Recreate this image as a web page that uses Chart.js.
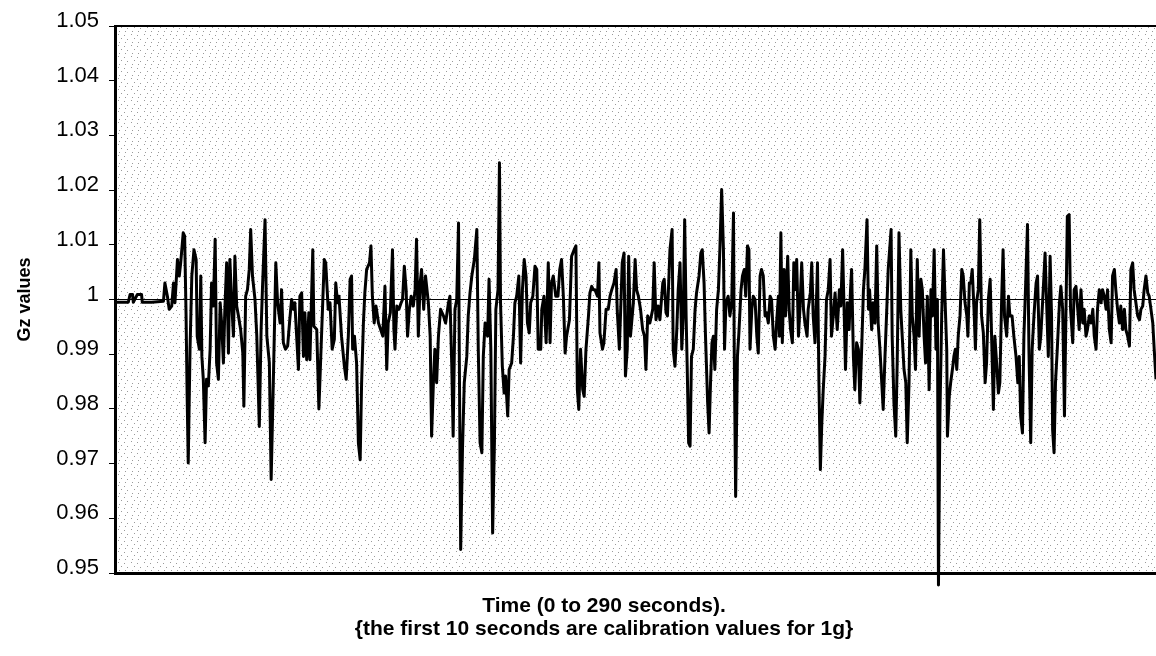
<!DOCTYPE html>
<html>
<head>
<meta charset="utf-8">
<title>Gz values</title>
<script src="https://cdn.jsdelivr.net/npm/chart.js@4.4.1/dist/chart.umd.min.js"></script>
<style>
    html, body { margin: 0; padding: 0; background: #fff; }
    canvas { display: block; }
</style>
</head>
<body>
<canvas id="gz-chart" width="1156" height="656"></canvas>
<script>
// Time in seconds (0 to 290)
const timeSec = [
    0, 3.7, 4.2, 4.9, 5.1, 6.2, 7.4, 7.6, 10.2, 13.5, 13.9, 14.6, 15.1, 15.8, 16.3, 16.7, 17.4, 17.9, 18.3, 19.0,
    19.4, 19.8, 20.1, 20.4, 20.9, 21.4, 22.0, 22.6, 22.9, 23.5, 23.9, 24.2, 24.6, 25.1, 25.5, 26.0, 26.5, 26.9, 27.4, 27.9,
    28.3, 28.8, 29.3, 29.7, 30.2, 30.6, 31.1, 31.6, 32.0, 32.5, 33.0, 33.4, 33.9, 34.4, 35.0, 35.6, 35.9, 36.4, 36.9, 37.4,
    37.8, 38.3, 39.0, 39.5, 40.2, 40.7, 41.1, 41.8, 42.3, 43.0, 43.5, 44.1, 44.8, 45.3, 46.0, 46.4, 46.9, 47.5, 48.1, 48.7,
    49.2, 49.7, 50.1, 50.6, 51.1, 51.5, 52.0, 52.5, 52.9, 53.4, 54.0, 54.3, 55.1, 55.4, 56.2, 56.8,
    58.3, 58.7, 59.4, 59.9, 60.5, 61.1, 61.5, 62.0, 62.4, 63.1, 63.9, 64.4, 65.0, 65.5, 65.9, 66.2, 66.7, 67.3, 67.8, 68.3,
    68.7, 69.2, 69.6, 70.1, 70.9, 71.3, 71.7, 72.2, 72.7, 73.4, 74.0, 74.6, 75.2, 75.7, 76.1, 76.7, 77.3, 77.7, 78.0, 78.5,
    79.1, 79.7, 80.1, 80.6, 81.1, 81.5, 82.0, 82.5, 83.1, 83.6, 84.0, 84.5, 85.0, 85.4, 86.0, 86.5, 87.3, 87.8, 88.2, 88.7,
    89.1, 89.6, 90.1, 90.7, 91.5, 92.1, 92.9, 93.3, 93.8, 94.2, 94.7, 95.2, 95.7, 95.9, 96.3, 96.8, 97.3, 98.0, 98.4, 98.9,
    99.4, 100.1, 100.8, 101.2, 101.7, 102.2, 102.6, 103.1, 103.8, 104.2, 104.7, 105.2, 105.7, 106.1, 106.7, 107.1, 107.4, 107.9, 108.4, 108.8,
    109.4, 109.8, 110.5, 111.0, 111.4, 111.9, 112.5, 113.0, 113.5, 114.0,
    114.5, 114.9, 115.4, 115.8, 116.4, 117.0, 117.5, 117.9, 118.6, 118.9, 119.5, 120.1, 120.7, 121.2, 121.6, 122.1, 122.8, 123.4, 123.9, 124.4,
    124.9, 125.4, 125.8, 126.6, 127.2, 127.9, 128.4, 128.8, 129.2, 129.7, 130.3, 130.7, 131.2, 131.9, 132.3, 132.8, 133.2, 133.7, 134.4, 134.8,
    135.1, 135.8, 136.2, 136.8, 137.4, 137.9, 138.4, 139.0, 139.6, 139.9, 140.5, 141.0, 141.3, 141.8, 142.2, 142.7, 143.1, 143.6, 144.4, 144.9,
    145.3, 145.8, 146.4, 147.0, 147.5, 147.9, 148.4, 149.0, 149.8, 150.2, 150.7, 151.3, 151.8, 152.6, 153.0, 153.5, 153.9, 154.6, 155.2, 155.5,
    156.0, 156.5, 156.9, 157.4, 157.9, 158.3, 158.7, 159.1, 159.4, 159.8, 160.2, 160.6, 161.1, 161.6, 162.0, 162.7, 163.2, 163.6, 164.1, 164.5,
    165.1, 165.5, 165.9, 166.3, 166.7, 167.1, 167.6, 168.1, 168.5, 169.0, 169.5, 169.8, 170.2, 170.8,
    171.3, 171.8, 172.3, 172.5, 172.9, 173.4, 173.8, 174.4, 174.8, 175.3, 175.7, 176.2, 176.6, 176.9, 177.4, 177.8, 178.3, 178.8, 179.2, 179.7,
    180.1, 180.6, 181.1, 181.5, 182.0, 182.5, 182.9, 183.4, 183.9, 184.3, 184.8, 185.1, 185.5, 185.9, 186.4, 186.8, 187.4, 187.8, 188.2, 188.7,
    189.1, 189.4, 189.9, 190.4, 190.8, 191.3, 191.8, 192.2, 192.8, 193.1, 193.7, 194.1, 194.5, 195.0, 195.5, 195.7, 196.1, 196.5, 196.9, 197.3,
    197.8, 198.2, 198.7, 199.2, 199.6, 200.1, 200.6, 201.2, 201.8, 202.2, 202.7, 203.2, 203.5, 204.0, 204.5, 204.9, 205.2, 205.7, 206.1, 206.6,
    207.1, 207.5, 208.0, 208.5, 208.9, 209.5, 209.9, 210.2, 210.8, 211.2, 211.7, 212.2, 212.6, 213.1, 213.6, 214.0, 214.5, 215.0, 215.4, 216.2,
    216.5, 217.0, 217.5, 217.9, 218.4, 218.9, 219.3, 219.8, 220.3, 220.7, 221.2, 221.7, 222.1, 222.6, 223.0, 223.5, 224.0, 224.5, 224.9, 225.4,
    225.8, 226.3, 226.8, 227.3, 227.7, 228.2,
    228.7, 229.1, 229.4, 229.8, 230.3, 230.8, 231.2, 231.7, 231.9, 232.4, 232.8, 233.4, 233.7, 234.1, 234.5, 234.9, 235.4, 235.9, 236.3, 236.8,
    237.3, 237.6, 238.0, 238.4, 238.8, 239.3, 239.7, 240.0, 240.5, 240.9, 241.4, 241.9, 242.4, 242.8, 243.3, 243.8, 244.2, 244.7, 245.1, 245.6,
    246.1, 246.5, 247.0, 247.4, 247.8, 248.4, 248.9, 249.3, 249.9, 250.4, 251.0, 251.5, 251.9, 252.3, 252.8, 253.2, 253.7, 254.2, 254.6, 255.1,
    255.5, 256.0, 256.6, 257.0, 257.5, 257.9, 258.4, 259.1, 259.5, 260.0, 260.5, 260.9, 261.2, 261.6, 262.0, 262.5, 263.1, 263.5, 264.0, 264.5,
    264.9, 265.3, 265.8, 266.2, 266.8, 267.2, 267.7, 268.2, 268.6, 269.1, 269.6, 270.0, 270.5, 270.9, 271.4, 271.9, 272.4, 272.8, 273.3, 273.7,
    274.2, 274.7, 275.1, 275.6, 276.1, 276.5, 277.0, 277.5, 277.9, 278.4, 278.8, 279.3, 279.8, 280.2, 280.7, 281.2, 281.6, 282.1, 282.6, 283.0,
    283.5, 283.9, 284.4, 284.9, 285.4, 285.8, 286.3, 286.7, 287.2, 287.7, 288.1, 288.6, 289.1, 289.5, 290.0
];

// Gz readings (g), one per entry of timeSec
const gzValues = [
    0.9995, 0.9995, 1.0009, 1.0009, 0.9995, 1.0009, 1.0009, 0.9995, 0.9995, 0.9997, 1.0030, 1.0006, 0.9982, 0.9988, 1.0030, 0.9994, 1.0073, 1.0043, 1.0067, 1.0122,
    1.0116, 0.9970, 0.9823, 0.9701, 0.9909, 1.0043, 1.0091, 1.0073, 0.9933, 0.9909, 1.0043, 0.9896, 0.9854, 0.9738, 0.9854, 0.9842, 0.9909, 1.0030, 0.9988, 1.0110,
    0.9884, 0.9854, 0.9994, 0.9957, 0.9884, 0.9982, 1.0067, 0.9902, 1.0073, 0.9994, 0.9933, 1.0079, 0.9988, 0.9970, 0.9945, 0.9902, 0.9805, 1.0006, 1.0018, 1.0055,
    1.0128, 1.0043, 1.0000, 0.9933, 0.9768, 0.9945, 1.0024, 1.0146, 0.9933, 0.9884, 0.9671, 0.9848, 1.0067, 0.9994, 0.9957, 1.0018, 0.9921, 0.9909, 0.9915, 0.9964,
    1.0000, 0.9982, 0.9994, 0.9933, 0.9872, 1.0006, 1.0012, 0.9896, 0.9976, 0.9890, 0.9976, 0.9890, 1.0091, 0.9951, 0.9945, 0.9800,
    1.0073, 1.0067, 0.9982, 0.9994, 0.9909, 0.9927, 1.0030, 0.9994, 1.0006, 0.9933, 0.9878, 0.9854, 0.9933, 1.0037, 1.0043, 0.9909, 0.9933, 0.9884, 0.9738, 0.9707,
    0.9848, 0.9957, 1.0012, 1.0055, 1.0067, 1.0098, 1.0006, 0.9957, 0.9988, 0.9957, 0.9945, 0.9933, 1.0024, 0.9872, 0.9957, 0.9976, 1.0091, 0.9945, 0.9909, 0.9988,
    0.9982, 0.9994, 1.0000, 1.0061, 1.0018, 0.9933, 0.9982, 1.0006, 0.9988, 1.0018, 1.0110, 0.9933, 1.0030, 1.0055, 0.9982, 1.0043, 0.9994, 0.9933, 0.9750, 0.9848,
    0.9909, 0.9848, 0.9933, 0.9982, 0.9970, 0.9957, 0.9994, 1.0006, 0.9884, 0.9750, 0.9982, 1.0000, 1.0140, 0.9909, 0.9543, 0.9726, 0.9848, 0.9896, 0.9970, 1.0012,
    1.0043, 1.0073, 1.0128, 0.9909, 0.9738, 0.9720, 0.9896, 0.9957, 0.9933, 1.0037, 0.9909, 0.9573, 0.9738, 0.9982, 1.0018, 1.0250, 0.9994, 0.9878, 0.9829, 0.9860,
    0.9787, 0.9872, 0.9884, 0.9933, 0.9994, 1.0006, 1.0043, 0.9884, 1.0018, 1.0073,
    1.0043, 0.9957, 0.9939, 0.9994, 1.0006, 1.0061, 1.0055, 0.9909, 0.9909, 0.9982, 1.0006, 0.9921, 1.0067, 0.9921, 1.0030, 1.0043, 1.0006, 1.0006, 1.0055, 1.0073,
    1.0006, 0.9902, 0.9933, 0.9963, 1.0079, 1.0091, 1.0098, 0.9835, 0.9799, 0.9909, 0.9835, 0.9823, 0.9909, 0.9970, 1.0012, 1.0024, 1.0018, 1.0018, 1.0006, 1.0067,
    0.9939, 0.9909, 0.9921, 0.9982, 0.9982, 1.0006, 1.0018, 1.0030, 1.0055, 0.9982, 0.9909, 1.0006, 1.0067, 1.0085, 0.9860, 0.9909, 1.0079, 0.9933, 0.9994, 1.0073,
    1.0018, 1.0006, 0.9982, 0.9945, 0.9933, 0.9872, 0.9970, 0.9957, 0.9982, 1.0067, 0.9963, 0.9988, 0.9963, 1.0030, 1.0037, 0.9976, 0.9970, 1.0091, 1.0128, 0.9909,
    0.9878, 0.9945, 1.0018, 1.0067, 0.9909, 0.9970, 1.0146, 0.9970, 0.9878, 0.9738, 0.9732, 0.9896, 0.9909, 0.9982, 1.0012, 1.0043, 1.0085, 1.0091, 1.0030, 0.9933,
    0.9811, 0.9756, 0.9848, 0.9921, 0.9933, 0.9872, 0.9982, 1.0018, 1.0091, 1.0201, 1.0091, 0.9909, 0.9994, 1.0006,
    0.9970, 0.9994, 1.0158, 0.9909, 0.9640, 0.9896, 0.9939, 1.0018, 1.0043, 1.0055, 1.0006, 1.0098, 1.0091, 0.9909, 0.9982, 1.0006, 1.0000, 0.9933, 0.9902, 1.0043,
    1.0055, 1.0043, 0.9970, 0.9976, 0.9957, 1.0006, 1.0000, 0.9933, 0.9909, 0.9957, 1.0006, 0.9933, 1.0122, 0.9921, 1.0055, 0.9970, 1.0079, 0.9982, 0.9945, 0.9921,
    1.0067, 1.0018, 1.0073, 0.9933, 0.9982, 1.0067, 0.9982, 0.9957, 0.9933, 0.9982, 1.0012, 1.0067, 0.9970, 0.9921, 1.0018, 1.0067, 0.9848, 0.9689, 0.9774, 0.9835,
    0.9896, 1.0000, 1.0018, 1.0073, 0.9933, 0.9970, 1.0012, 0.9945, 1.0018, 0.9988, 1.0091, 0.9957, 0.9872, 0.9994, 0.9945, 1.0018, 1.0055, 0.9896, 0.9835, 0.9921,
    0.9909, 0.9811, 0.9909, 1.0018, 1.0055, 1.0146, 0.9982, 1.0018, 0.9945, 0.9994, 0.9957, 1.0098, 0.9957, 0.9909, 0.9848, 0.9799, 0.9896, 0.9982, 1.0055, 1.0128,
    0.9933, 0.9811, 0.9750, 0.9884, 1.0122, 0.9982, 0.9933, 0.9872, 0.9848, 0.9738, 0.9848, 1.0091, 0.9970, 0.9933, 0.9872, 1.0073, 0.9933, 1.0037, 1.0018, 0.9933,
    0.9884, 1.0006, 0.9835, 1.0018, 0.9970, 1.0091,
    0.9909, 1.0000, 0.9478, 0.9787, 0.9970, 1.0091, 1.0006, 0.9909, 0.9750, 0.9823, 0.9848, 0.9878, 0.9896, 0.9909, 0.9872, 0.9933, 0.9970, 1.0055, 1.0043, 0.9994,
    0.9970, 0.9933, 1.0030, 1.0030, 1.0055, 0.9982, 0.9909, 0.9994, 1.0018, 1.0146, 0.9970, 0.9939, 0.9848, 0.9884, 1.0000, 1.0037, 0.9933, 0.9799, 0.9933, 0.9884,
    0.9829, 0.9848, 1.0000, 1.0091, 0.9970, 0.9933, 1.0006, 0.9970, 0.9970, 0.9933, 0.9896, 0.9848, 0.9896, 0.9787, 0.9756, 0.9933, 1.0030, 1.0137, 0.9909, 0.9738,
    0.9909, 0.9970, 1.0030, 1.0043, 0.9909, 0.9933, 0.9994, 1.0085, 1.0000, 0.9896, 1.0079, 0.9970, 0.9762, 0.9720, 0.9848, 0.9909, 0.9994, 1.0024, 0.9982, 0.9787,
    0.9970, 1.0152, 1.0155, 0.9982, 0.9921, 1.0018, 1.0024, 0.9982, 0.9945, 1.0018, 0.9957, 0.9982, 0.9933, 0.9945, 0.9970, 0.9957, 0.9982, 0.9933, 0.9909, 0.9982,
    1.0018, 0.9994, 1.0018, 1.0006, 0.9982, 1.0018, 0.9945, 0.9921, 1.0043, 1.0055, 1.0018, 0.9982, 0.9957, 0.9988, 0.9945, 0.9982, 0.9945, 0.9933, 0.9915, 1.0055,
    1.0067, 1.0018, 0.9994, 0.9970, 0.9963, 0.9982, 0.9988, 1.0018, 1.0043, 1.0012, 1.0006, 0.9982, 0.9957, 0.9909, 0.9854
];

// Y axis tick values
const yTickValues = [0.95, 0.96, 0.97, 0.98, 0.99, 1.00, 1.01, 1.02, 1.03, 1.04, 1.05];

const xTitleLines = ['Time (0 to 290 seconds).', '{the first 10 seconds are calibration values for 1g}'];

const FONT = '"Liberation Sans", Arial, Helvetica, sans-serif';

// Build the points
const n = Math.min(timeSec.length, gzValues.length);
const points = [];
for (let i = 0; i < n; i++) {
    points.push({ x: timeSec[i], y: gzValues[i] });
}

// Sparse stipple tile for the plot background
function makeStipple(ctx) {
    const tile = document.createElement('canvas');
    tile.width = 13;
    tile.height = 11;
    const t = tile.getContext('2d');
    t.fillStyle = '#ffffff';
    t.fillRect(0, 0, 13, 11);
    t.fillStyle = '#9a9a9a';
    [[1, 1], [7, 2], [4, 5], [10, 6], [2, 9], [8, 9]].forEach(p => t.fillRect(p[0], p[1], 1, 1));
    return ctx.createPattern(tile, 'repeat');
}

const plotDecor = {
    id: 'plotDecor',
    beforeDraw(chart) {
        const { ctx, chartArea } = chart;
        ctx.save();
        ctx.fillStyle = makeStipple(ctx);
        ctx.fillRect(chartArea.left, chartArea.top, chartArea.right - chartArea.left, chartArea.bottom - chartArea.top);
        ctx.restore();
    },
    afterDraw(chart) {
        const { ctx, chartArea } = chart;
        ctx.save();
        // top frame line
        ctx.strokeStyle = '#000';
        ctx.lineWidth = 2;
        ctx.beginPath();
        ctx.moveTo(chartArea.left, chartArea.top);
        ctx.lineTo(chartArea.right, chartArea.top);
        ctx.stroke();

        // two-line x axis title
        ctx.fillStyle = '#000';
        ctx.font = 'bold 21px ' + FONT;
        ctx.textAlign = 'center';
        ctx.textBaseline = 'middle';
        ctx.fillText(xTitleLines[0], 604, 606);
        ctx.fillText(xTitleLines[1], 604, 629);
        ctx.restore();
    }
};

const ctx = document.getElementById('gz-chart').getContext('2d');
new Chart(ctx, {
    type: 'line',
    data: {
        datasets: [{
            label: 'Gz',
            data: points,
            borderColor: '#000',
            borderWidth: 3,
            borderJoinStyle: 'round',
            pointRadius: 0,
            tension: 0,
            fill: false,
            clip: false
        }]
    },
    options: {
        responsive: false,
        animation: false,
        devicePixelRatio: 1,
        layout: { padding: { top: 26, right: 0, bottom: 0, left: 0 } },
        plugins: {
            legend: { display: false },
            tooltip: { enabled: false }
        },
        scales: {
            x: {
                type: 'linear',
                min: 0,
                max: 290,
                ticks: { display: false },
                grid: { display: false },
                border: { display: true, color: '#000', width: 3 },
                afterFit: scale => { scale.height = 83; }
            },
            y: {
                type: 'linear',
                min: 0.95,
                max: 1.05,
                afterBuildTicks: scale => {
                    scale.ticks = yTickValues.map(v => ({ value: v }));
                },
                afterFit: scale => { scale.width = 115; },
                ticks: {
                    color: '#000',
                    padding: 10,
                    labelOffset: -5,
                    font: { family: FONT, size: 22 },
                    callback: v => String(Number(v.toFixed(2)))
                },
                grid: {
                    drawTicks: true,
                    tickLength: 6,
                    tickColor: '#000',
                    color: c => (c.tick && Math.abs(c.tick.value - 1) < 1e-6) ? '#000' : 'rgba(0,0,0,0)',
                    lineWidth: 1
                },
                border: { display: true, color: '#000', width: 3 },
                title: {
                    display: true,
                    text: 'Gz values',
                    color: '#000',
                    font: { family: FONT, size: 18, weight: 'bold' },
                    padding: { top: 14, bottom: 0 }
                }
            }
        }
    },
    plugins: [plotDecor]
});
</script>
</body>
</html>
